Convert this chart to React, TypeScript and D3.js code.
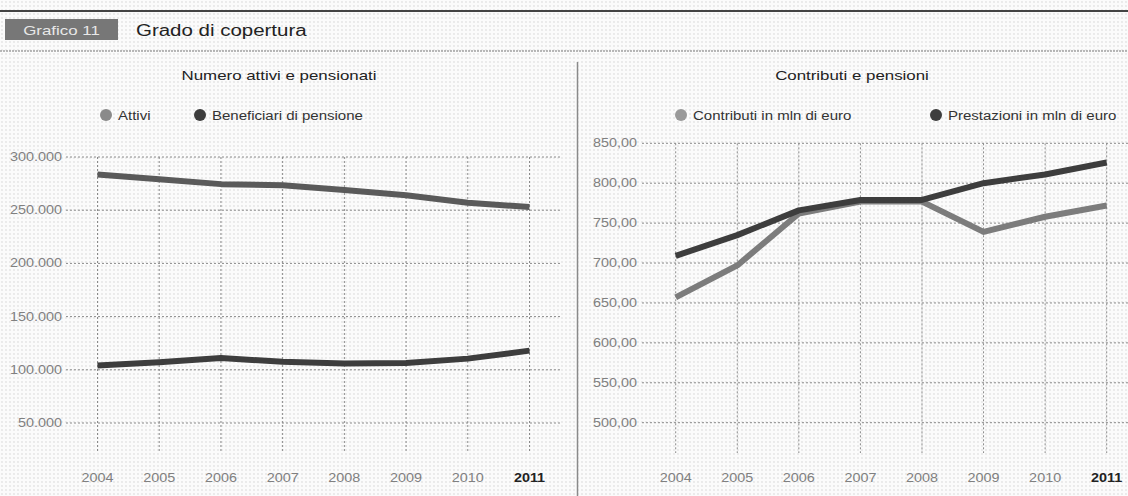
import React from "react";
import * as d3 from "d3";

// Years shared by both panels
const years = ["2004", "2005", "2006", "2007", "2008", "2009", "2010", "2011"];

// Left panel: number of active workers and pension beneficiaries
const attivi = [283500, 279000, 274500, 273500, 269000, 264000, 257000, 253000];
const beneficiari = [104000, 107000, 111000, 107500, 106000, 106500, 110500, 118000];
const leftTicks = [50000, 100000, 150000, 200000, 250000, 300000];

// Right panel: contributions and benefits (millions of euro)
const contributi = [657, 697, 762, 777, 777, 739, 758, 772];
const prestazioni = [709, 735, 766, 779, 779, 800, 811, 826];
const rightTicks = [500, 550, 600, 650, 700, 750, 800, 850];

const W = 1128;
const H = 496;
const FONT = "'Liberation Sans', Arial, Helvetica, sans-serif";
// the typeface of this sheet is set a little wider than Arial
const SX = 1.25;

const itLocale = d3.formatLocale({
  decimal: ",",
  thousands: ".",
  grouping: [3],
  currency: ["€", ""],
});
const fmtLeft = itLocale.format(",d");
const fmtRight = itLocale.format(",.2f");

type TProps = {
  x: number;
  y: number;
  size: number;
  fill: string;
  anchor?: "start" | "middle" | "end";
  weight?: string;
  sx?: number;
  children: React.ReactNode;
};

function T({ x, y, size, fill, anchor = "start", weight = "normal", sx = SX, children }: TProps) {
  return (
    <text
      transform={`translate(${x},${y}) scale(${sx},1)`}
      textAnchor={anchor}
      fontSize={size}
      fill={fill}
      fontWeight={weight}
      fontFamily={FONT}
    >
      {children}
    </text>
  );
}

type PanelProps = {
  title: string;
  titleX: number;
  legend: { label: string; color: string; cx: number }[];
  xRange: [number, number];
  yDomain: [number, number];
  yRange: [number, number];
  gridX: [number, number];
  labelX: number;
  ticks: number[];
  fmt: (v: number) => string;
  series: { values: number[]; color: string }[];
};

function Panel(p: PanelProps) {
  const x = d3.scalePoint<string>().domain(years).range(p.xRange);
  const y = d3.scaleLinear().domain(p.yDomain).range(p.yRange);
  const top = y(p.yDomain[1]);
  const line = d3
    .line<number>()
    .x((_, i) => x(years[i]) as number)
    .y((d) => y(d));
  return (
    <g>
      <T x={p.titleX} y={80} size={13.5} fill="#222" anchor="middle">
        {p.title}
      </T>
      {p.legend.map((l) => (
        <g key={l.label}>
          <circle cx={l.cx} cy={115} r={6} fill={l.color} />
          <T x={l.cx + 12} y={119.5} size={12} fill="#333">
            {l.label}
          </T>
        </g>
      ))}
      {p.ticks.map((t) => (
        <g key={t}>
          <line
            x1={p.gridX[0]}
            x2={p.gridX[1]}
            y1={y(t)}
            y2={y(t)}
            stroke="#8a8a8a"
            strokeWidth={1}
            strokeDasharray="2,2"
          />
          <T x={p.labelX} y={y(t) + 4} size={12} fill="#808080" anchor="end" sx={1.2}>
            {p.fmt(t)}
          </T>
        </g>
      ))}
      {years.map((yr) => (
        <g key={yr}>
          <line
            x1={x(yr)}
            x2={x(yr)}
            y1={top}
            y2={453}
            stroke="#8a8a8a"
            strokeWidth={1}
            strokeDasharray="2,2"
          />
          <T
            x={x(yr) as number}
            y={482}
            size={12}
            anchor="middle"
            sx={1.2}
            fill={yr === "2011" ? "#222" : "#808080"}
            weight={yr === "2011" ? "bold" : "normal"}
          >
            {yr}
          </T>
        </g>
      ))}
      {p.series.map((s, i) => (
        <path
          key={i}
          d={line(s.values) || ""}
          fill="none"
          stroke={s.color}
          strokeWidth={6}
          strokeLinejoin="round"
          strokeLinecap="butt"
        />
      ))}
    </g>
  );
}

export default function App() {
  return (
    <svg
      width={W}
      height={H}
      viewBox={`0 0 ${W} ${H}`}
      style={{ position: "absolute", left: 0, top: 0, background: "#fff" }}
    >
      <defs>
        <pattern id="screen" width="4" height="4" patternUnits="userSpaceOnUse">
          <rect width="4" height="4" fill="#fbfbfb" />
          <circle cx="2" cy="2" r="0.7" fill="#cfcfcf" />
        </pattern>
      </defs>
      <rect width={W} height={H} fill="url(#screen)" />

      {/* header */}
      <rect x={0} y={10} width={W} height={2} fill="#444" />
      <rect x={5} y={19} width={113} height={21} fill="#777" />
      <T x={61.5} y={34.5} size={13} fill="#e8e8e8" anchor="middle" sx={1.3}>
        Grafico 11
      </T>
      <T x={136} y={35.5} size={16} fill="#222" sx={1.28}>
        Grado di copertura
      </T>
      <line x1={0} x2={W} y1={51} y2={51} stroke="#777" strokeWidth={1} strokeDasharray="2,1" />

      {/* divider between panels */}
      <line x1={577.5} x2={577.5} y1={62} y2={H} stroke="#8a8a8a" strokeWidth={1.5} />

      <Panel
        title="Numero attivi e pensionati"
        titleX={279}
        legend={[
          { label: "Attivi", color: "#8a8a8a", cx: 106 },
          { label: "Beneficiari di pensione", color: "#3d3d3d", cx: 200 },
        ]}
        xRange={[97.5, 529.5]}
        yDomain={[50000, 300000]}
        yRange={[423, 157]}
        gridX={[66, 562]}
        labelX={62}
        ticks={leftTicks}
        fmt={fmtLeft}
        series={[
          { values: attivi, color: "#5a5a5a" },
          { values: beneficiari, color: "#3d3d3d" },
        ]}
      />

      <Panel
        title="Contributi e pensioni"
        titleX={852}
        legend={[
          { label: "Contributi in mln di euro", color: "#999", cx: 681 },
          { label: "Prestazioni in mln di euro", color: "#3d3d3d", cx: 936 },
        ]}
        xRange={[675.7, 1106.7]}
        yDomain={[500, 850]}
        yRange={[422.7, 143.3]}
        gridX={[642, W]}
        labelX={637}
        ticks={rightTicks}
        fmt={fmtRight}
        series={[
          { values: contributi, color: "#7c7c7c" },
          { values: prestazioni, color: "#3d3d3d" },
        ]}
      />
    </svg>
  );
}
